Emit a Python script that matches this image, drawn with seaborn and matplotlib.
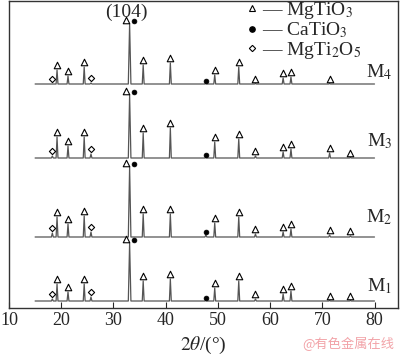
# XRD patterns of M1-M4

import numpy as np
import pandas as pd
import matplotlib
matplotlib.use("Agg")
import matplotlib.pyplot as plt
from matplotlib.lines import Line2D
import seaborn as sns

# ==========================================================
# DATA
# ==========================================================

sample_labels = [r"M$_1$", r"M$_2$", r"M$_3$", r"M$_4$"]
baselines = [7, 71, 150, 224]

main_peak = 33.1
main_heights = [58, 70, 63, 60]

mgtio3_pos = [19.2, 21.3, 24.4, 35.7, 40.9, 49.4, 54.0, 57.2, 62.5, 64.0, 71.4, 75.4]
mgtio3_heights = [
    [17, 9, 17, 20, 22, 13, 20, 2, 7, 10, 0.5, 0.5],
    [20, 13, 21, 23, 23, 14, 20, 3, 5, 8, 2, 1],
    [21, 12, 21, 25, 30, 16, 19, 2, 6, 9, 5, 0.5],
    [14, 8, 17, 19, 21, 9, 17, 0.5, 6, 7, 0.5, 0],
]
mgtio3_marked = [
    [1] * 12,
    [1] * 12,
    [1] * 12,
    [1] * 11 + [0],
]

catio3_pos = [47.7]
catio3_heights = [[0.5], [2], [0.5], [0.5]]

mgti2o5_pos = [18.3, 25.7]
mgti2o5_heights = [[2, 4], [4, 5], [2, 4], [0, 1]]

x_start, x_end = 15, 80

# ==========================================================
# STYLE
# ==========================================================

sns.set_style("ticks")
plt.rcParams["font.family"] = ["Liberation Serif", "DejaVu Serif"]
plt.rcParams["mathtext.fontset"] = "stix"

fig = plt.figure(figsize=(4.0, 3.55), dpi=100)
ax = fig.add_axes([9 / 400, 47 / 355, 389 / 400, 307 / 355])

line_color = "#555555"

# ==========================================================
# TRACES
# ==========================================================


def build_trace(base, peaks):
    xs = [x_start]
    ys = [base]
    for p, h, w in sorted(peaks):
        xs += [p - w, p, p + w]
        ys += [base, base + h, base]
    xs.append(x_end)
    ys.append(base)
    return pd.DataFrame({"two_theta": xs, "intensity": ys})


tri_pts = []
dot_pts = []
dia_pts = []

label_offsets = [15, 20, 17, 12]

for i, base in enumerate(baselines):
    peaks = [(main_peak, main_heights[i], 0.25)]
    peaks += [(p, h, 0.18) for p, h in zip(mgtio3_pos, mgtio3_heights[i])]
    peaks += [(p, h, 0.18) for p, h in zip(catio3_pos, catio3_heights[i])]
    peaks += [(p, h, 0.18) for p, h in zip(mgti2o5_pos, mgti2o5_heights[i])]

    df = build_trace(base, peaks)
    sns.lineplot(data=df, x="two_theta", y="intensity", sort=False,
                 estimator=None, color=line_color, linewidth=0.9, ax=ax)

    # phase markers
    for p, h, m in zip(mgtio3_pos, mgtio3_heights[i], mgtio3_marked[i]):
        if m:
            tri_pts.append((p, base + h + 5))
    for p, h in zip(catio3_pos, catio3_heights[i]):
        dot_pts.append((p, base + h + 3))
    for p, h in zip(mgti2o5_pos, mgti2o5_heights[i]):
        dia_pts.append((p, base + h + 5))
    tri_pts.append((main_peak - 0.75, base + main_heights[i] + 4))
    dot_pts.append((main_peak + 0.85, base + main_heights[i] + 3))

    ax.text(80.9, base + label_offsets[i], sample_labels[i], fontsize=14,
            ha="center", va="center")

tri = pd.DataFrame(tri_pts, columns=["x", "y"])
dot = pd.DataFrame(dot_pts, columns=["x", "y"])
dia = pd.DataFrame(dia_pts, columns=["x", "y"])

sns.scatterplot(data=tri, x="x", y="y", marker="^", s=22, facecolor="white",
                edgecolor="black", linewidth=0.8, zorder=3, ax=ax)
sns.scatterplot(data=dot, x="x", y="y", marker="o", s=12, color="black",
                edgecolor="black", linewidth=0.5, zorder=3, ax=ax)
sns.scatterplot(data=dia, x="x", y="y", marker="D", s=10, facecolor="white",
                edgecolor="black", linewidth=0.8, zorder=3, ax=ax)

ax.text(main_peak - 0.7, 296, "(104)", fontsize=14, ha="center", va="center")

# ==========================================================
# LEGEND
# ==========================================================

handles = [
    Line2D([], [], marker="^", ls="none", markersize=4.5, mfc="white",
           mec="black", mew=0.8),
    Line2D([], [], marker="o", ls="none", markersize=3.8, mfc="black",
           mec="black"),
    Line2D([], [], marker="D", ls="none", markersize=3.2, mfc="white",
           mec="black", mew=0.8),
]
labels = ["\u2014 MgTiO$_3$", "\u2014 CaTiO$_3$", "\u2014 MgTi$_2$O$_5$"]
ax.legend(handles, labels, loc="upper left", bbox_to_anchor=(0.59, 1.03),
          frameon=False, fontsize=14, handlelength=0.6, handletextpad=0.2,
          labelspacing=0.0, borderaxespad=0)

# ==========================================================
# AXES
# ==========================================================

ax.set_xlim(10, 84.5)
ax.set_ylim(0, 307)
ax.set_xticks([10, 20, 30, 40, 50, 60, 70, 80])
ax.set_yticks([])
ax.tick_params(axis="x", direction="in", length=4, labelsize=13, pad=3)
ax.set_xlabel(r"$2\theta$/(°)", fontsize=14, labelpad=4)
ax.set_ylabel("")
for s in ax.spines.values():
    s.set_visible(True)
    s.set_linewidth(1.0)
    s.set_color("#333333")

fig.text(0.985, 0.01, "@有色金属在线", fontsize=9.5, color="#f2a3a8",
         ha="right", va="bottom", family=["Noto Sans CJK SC", "DejaVu Sans"])

fig.savefig("out.png", dpi=100)
plt.close(fig)
